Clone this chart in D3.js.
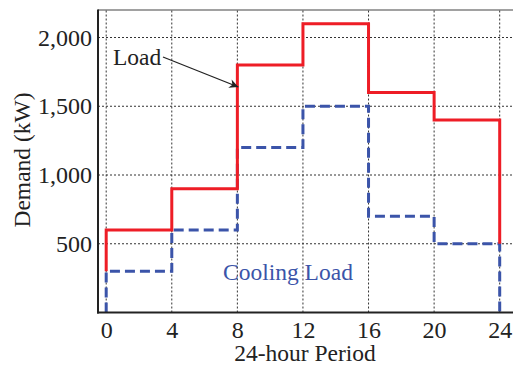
<!DOCTYPE html>
<html>
<head>
<meta charset="utf-8">
<script src="https://cdn.jsdelivr.net/npm/d3@7"></script>
<style>
  body { margin: 0; background: #fff; }
  text { font-family: "Liberation Serif", "Times New Roman", serif; fill: #222; }
</style>
</head>
<body>
<svg width="513" height="365"></svg>
<script>
let svg = d3.select("svg");

// data
let hours = [0, 4, 8, 12, 16, 20, 24];
let loadVals = [600, 900, 1800, 2100, 1600, 1400];
let coolingVals = [300, 600, 1200, 1500, 700, 500];
let loadStart = 300, loadEnd = 500;
let coolStart = 0, coolEnd = 0;
let yTicks = [500, 1000, 1500, 2000];

let x = d3.scaleLinear().domain([-0.5, 24.75]).range([98, 512]);
let y = d3.scaleLinear().domain([0, 2200]).range([312.5, 10]);

// step lines
function steps(vals, start, end) {
    let pts = [[hours[0], start]];
    vals.forEach(function (v, i) {
        pts.push([hours[i], v]);
        pts.push([hours[i + 1], v]);
    });
    pts.push([hours[hours.length - 1], end]);
    return pts;
}
let line = d3.line().x(d => x(d[0])).y(d => y(d[1]));

// grid
let grid = svg.append("g");
grid.selectAll("line.v")
    .data(hours)
    .enter().append("line")
    .attr("x1", d => x(d)).attr("x2", d => x(d))
    .attr("y1", y.range()[0]).attr("y2", y.range()[1])
    .attr("stroke", "#333").attr("stroke-width", 1)
    .attr("stroke-dasharray", "2,2");
grid.selectAll("line.h")
    .data(yTicks)
    .enter().append("line")
    .attr("y1", d => y(d)).attr("y2", d => y(d))
    .attr("x1", x.range()[0]).attr("x2", x.range()[1])
    .attr("stroke", "#333").attr("stroke-width", 1)
    .attr("stroke-dasharray", "2,2");

// series
svg.append("path")
    .datum(steps(coolingVals, coolStart, coolEnd))
    .attr("d", line)
    .attr("fill", "none")
    .attr("stroke", "#3b54a9")
    .attr("stroke-width", 3)
    .attr("stroke-dasharray", "10,5");

svg.append("path")
    .datum(steps(loadVals, loadStart, loadEnd))
    .attr("d", line)
    .attr("fill", "none")
    .attr("stroke", "#ee1d26")
    .attr("stroke-width", 3);

// frame
svg.append("line")
    .attr("x1", 98).attr("x2", 513).attr("y1", 10).attr("y2", 10)
    .attr("stroke", "#444").attr("stroke-width", 1.2);
svg.append("line")
    .attr("x1", 98).attr("x2", 98).attr("y1", 9.5).attr("y2", 313.5)
    .attr("stroke", "#222").attr("stroke-width", 2);
svg.append("line")
    .attr("x1", 97).attr("x2", 513).attr("y1", 312.5).attr("y2", 312.5)
    .attr("stroke", "#222").attr("stroke-width", 2);

// axes
let xAxis = svg.append("g")
    .attr("transform", "translate(0,312.5)")
    .call(d3.axisBottom(x).tickValues(hours).tickSize(0).tickPadding(8));
let yAxis = svg.append("g")
    .attr("transform", "translate(98,0)")
    .call(d3.axisLeft(y).tickValues(yTicks).tickSize(0).tickPadding(6).tickFormat(d3.format(",")));
[xAxis, yAxis].forEach(function (a) {
    a.select(".domain").remove();
    a.selectAll("text")
        .style("font-family", "'Liberation Serif', serif")
        .style("font-size", "24px")
        .attr("fill", "#222");
});

// labels
svg.append("text")
    .attr("x", 305).attr("y", 361)
    .attr("text-anchor", "middle")
    .style("font-size", "23.5px")
    .text("24-hour Period");
svg.append("text")
    .attr("transform", "translate(30,160) rotate(-90)")
    .attr("text-anchor", "middle")
    .style("font-size", "23.5px")
    .text("Demand (kW)");

// annotations
svg.append("defs").append("marker")
    .attr("id", "arrow")
    .attr("viewBox", "0 0 10 10")
    .attr("refX", 10).attr("refY", 5)
    .attr("markerWidth", 8).attr("markerHeight", 7)
    .attr("orient", "auto")
    .append("path")
    .attr("d", "M0,0 L10,5 L0,10 L3,5 Z")
    .attr("fill", "#222");

svg.append("text")
    .attr("x", 113).attr("y", 65)
    .style("font-size", "23.5px")
    .text("Load");
svg.append("line")
    .attr("x1", 163).attr("y1", 57)
    .attr("x2", x(8) + 1).attr("y2", y(1640))
    .attr("stroke", "#222").attr("stroke-width", 1.3)
    .attr("marker-end", "url(#arrow)");

svg.append("text")
    .attr("x", 223).attr("y", 280)
    .style("font-size", "23.5px")
    .style("fill", "#3b54a9")
    .text("Cooling Load");
</script>
</body>
</html>
